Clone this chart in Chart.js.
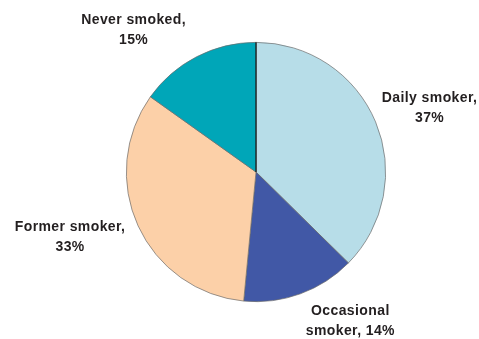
<!DOCTYPE html>
<html>
<head>
<meta charset="utf-8">
<script src="https://cdn.jsdelivr.net/npm/chart.js@4/dist/chart.umd.min.js"></script>
<style>
  html, body { margin: 0; padding: 0; background: #fff; }
  #wrap { width: 479px; height: 339px; position: relative; }
</style>
</head>
<body>
<div id="wrap"><canvas id="c" width="479" height="339"></canvas></div>
<script>
// Smoking status shares (%)
const categories = ['Daily smoker', 'Occasional smoker', 'Former smoker', 'Never smoked'];
const shares = [37, 14, 33, 15];
// Label text, one array of lines per slice
const labelLines = [
  ['Daily smoker,', '37%'],
  ['Occasional', 'smoker, 14%'],
  ['Former smoker,', '33%'],
  ['Never smoked,', '15%']
];
const sliceColors = ['#B7DDE8', '#4158A6', '#FCD0A8', '#00A6B8'];

// Nudges of each label's centre away from the slice's outer mid-point
const labelNudge = [[54, -14], [50, 27], [-68, 11], [-63, -27]];

const outsideLabels = {
  id: 'outsideLabels',
  afterDatasetsDraw(chart) {
    const ctx = chart.ctx;
    const meta = chart.getDatasetMeta(0);
    ctx.save();
    // dividing line at 12 o'clock where the first slice starts
    const a0 = meta.data[0];
    ctx.strokeStyle = '#000';
    ctx.lineWidth = 1;
    ctx.beginPath();
    ctx.moveTo(a0.x, a0.y);
    ctx.lineTo(a0.x + Math.cos(a0.startAngle) * a0.outerRadius, a0.y + Math.sin(a0.startAngle) * a0.outerRadius);
    ctx.stroke();

    ctx.font = 'bold 14px "Liberation Sans", Arial, sans-serif';
    ctx.letterSpacing = '0.4px';
    ctx.fillStyle = '#231F20';
    ctx.textAlign = 'center';
    ctx.textBaseline = 'middle';
    meta.data.forEach((arc, i) => {
      const mid = (arc.startAngle + arc.endAngle) / 2;
      const px = arc.x + Math.cos(mid) * arc.outerRadius + labelNudge[i][0];
      const py = arc.y + Math.sin(mid) * arc.outerRadius + labelNudge[i][1];
      const lines = labelLines[i];
      const lh = 20;
      lines.forEach((t, k) => {
        ctx.fillText(t, px, py + (k - (lines.length - 1) / 2) * lh);
      });
    });
    ctx.restore();
  }
};

new Chart(document.getElementById('c'), {
  type: 'pie',
  data: {
    labels: categories,
    datasets: [{
      data: shares,
      backgroundColor: sliceColors,
      borderColor: '#6b6b6b',
      borderWidth: 0.7
    }]
  },
  options: {
    responsive: false,
    animation: false,
    layout: { padding: { top: 42, bottom: 37, left: 33, right: 0 } },
    plugins: {
      legend: { display: false },
      tooltip: { enabled: false }
    }
  },
  plugins: [outsideLabels]
});
</script>
</body>
</html>
